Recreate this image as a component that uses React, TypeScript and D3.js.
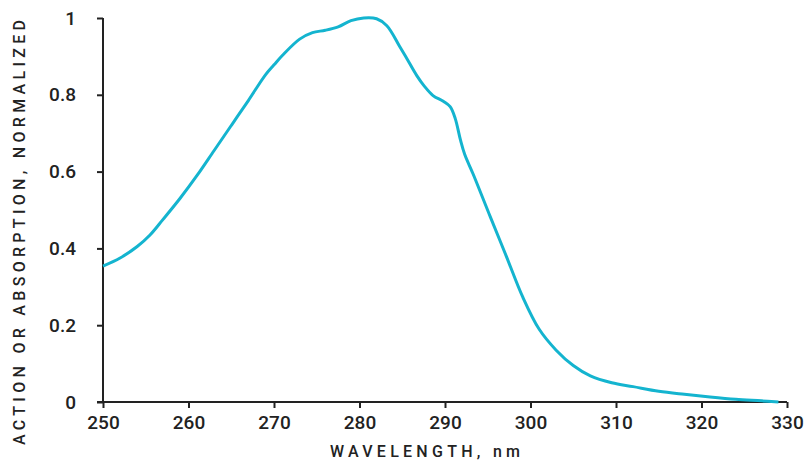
import React, { useEffect, useRef } from 'react';
import * as d3 from 'd3';

// wavelength (nm) and normalized action/absorption
const wavelengths = [
  250, 252, 254, 255.5, 257, 259, 261, 263, 265, 267, 269, 270, 271, 273, 274.5, 276, 277.5,
  279, 280.5, 282, 283.2, 284.7, 285.6, 286.7, 287.6, 288.6, 289.8, 290.6, 291.2, 291.8, 292.3,
  293.3, 295.3, 297.2, 299.1, 301, 303, 305, 307, 309.5, 312, 315, 318, 321, 324, 327, 329,
];
const values = [
  0.354, 0.375, 0.405, 0.435, 0.475, 0.53, 0.59, 0.655, 0.72, 0.785, 0.852, 0.878, 0.903, 0.945,
  0.962, 0.968, 0.977, 0.993, 1.0, 0.998, 0.98, 0.926, 0.892, 0.85, 0.822, 0.798, 0.783, 0.769,
  0.738, 0.683, 0.645, 0.593, 0.482, 0.378, 0.273, 0.19, 0.135, 0.095, 0.068, 0.05, 0.04, 0.028,
  0.02, 0.013, 0.007, 0.003, 0.0,
];
const xTicks = [250, 260, 270, 280, 290, 300, 310, 320, 330];
const yTicks = [0, 0.2, 0.4, 0.6, 0.8, 1];
const yTickLabels = ['0', '0.2', '0.4', '0.6', '0.8', '1'];

const App = () => {
  const svgRef = useRef<SVGSVGElement>(null);

  useEffect(() => {
    const width = 805;
    const height = 460;
    const margin = { top: 18, right: 18, bottom: 58, left: 103 };
    const font = 'Roboto, "DejaVu Sans Condensed", sans-serif';
    const ink = '#222';

    const svg = d3.select(svgRef.current).attr('width', width).attr('height', height);
    svg.selectAll('*').remove();

    const x = d3.scaleLinear().domain([250, 330]).range([margin.left, width - margin.right]);
    const y = d3.scaleLinear().domain([0, 1]).range([height - margin.bottom, margin.top]);

    const xAxis = svg.append('g')
      .attr('transform', `translate(0,${y(0)})`)
      .call(d3.axisBottom(x).tickValues(xTicks).tickSize(6).tickSizeOuter(0).tickPadding(8));
    xAxis.select('.domain').remove();
    xAxis.append('line')
      .attr('x1', margin.left - 6).attr('x2', x(330))
      .attr('stroke', ink).attr('stroke-width', 2);

    const yAxis = svg.append('g')
      .attr('transform', `translate(${margin.left},0)`)
      .call(d3.axisLeft(y).tickValues(yTicks).tickFormat((d, i) => yTickLabels[i]).tickSize(6).tickSizeOuter(0).tickPadding(21));
    yAxis.select('.domain').remove();
    yAxis.append('line')
      .attr('y1', y(1)).attr('y2', y(0))
      .attr('stroke', ink).attr('stroke-width', 2);

    [xAxis, yAxis].forEach(a => {
      a.selectAll('.tick line').attr('stroke', ink).attr('stroke-width', 2);
      a.selectAll('.tick text')
        .attr('fill', ink)
        .style('font-family', font)
        .style('font-size', '19px')
        .style('font-weight', 500);
    });

    const line = d3.line<number>()
      .x((d, i) => x(wavelengths[i]))
      .y(d => y(d))
      .curve(d3.curveCatmullRom.alpha(0.5));

    svg.append('path')
      .datum(values)
      .attr('d', line)
      .attr('fill', 'none')
      .attr('stroke', '#14b4cf')
      .attr('stroke-width', 3)
      .attr('stroke-linejoin', 'round');

    // axis titles, stretched with textLength to the reference widths
    svg.append('text')
      .attr('x', 330)
      .attr('y', 457)
      .attr('textLength', 190)
      .attr('lengthAdjust', 'spacing')
      .attr('fill', ink)
      .style('font-family', font)
      .style('font-size', '16px')
      .style('font-weight', 500)
      .text('WAVELENGTH, nm');

    svg.append('text')
      .attr('transform', 'translate(25,445) rotate(-90)')
      .attr('textLength', 425)
      .attr('lengthAdjust', 'spacing')
      .attr('fill', ink)
      .style('font-family', font)
      .style('font-size', '16px')
      .style('font-weight', 500)
      .text('ACTION OR ABSORPTION, NORMALIZED');
  }, []);

  return <svg ref={svgRef} style={{ position: 'absolute', left: 0, top: 0 }}></svg>;
};

export default App;
